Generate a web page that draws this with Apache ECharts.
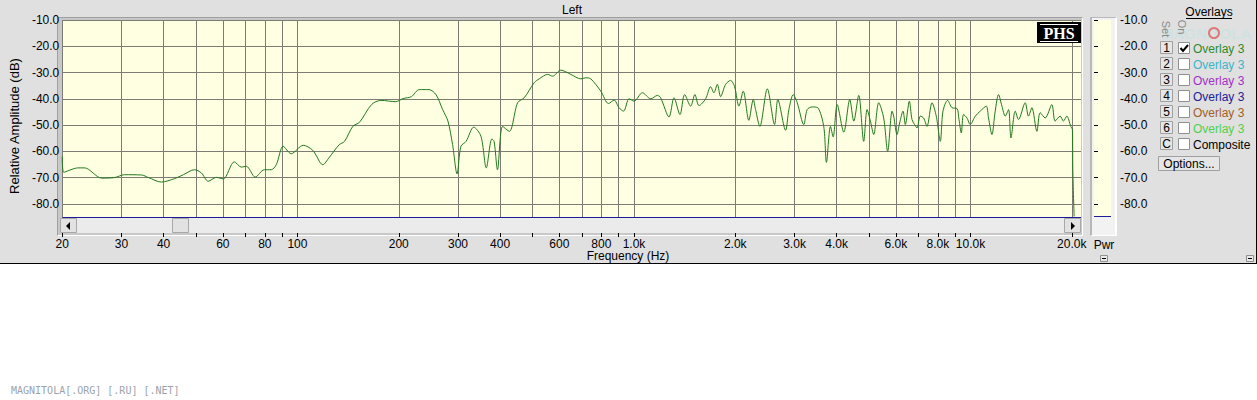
<!DOCTYPE html>
<html><head><meta charset="utf-8">
<script src="https://cdn.jsdelivr.net/npm/echarts@6/dist/echarts.min.js"></script>
<style>
html,body{margin:0;padding:0;background:#fff;width:1257px;height:400px;overflow:hidden}
#panel{position:absolute;left:0;top:0;width:1256px;height:263px;background:#e0e0e0;border-right:1px solid #000;border-bottom:1px solid #000}
#plotframe{position:absolute;left:57px;top:17px;width:1024px;height:217px;background:#c8c8c8;border-left:1px solid #a0a0a0;border-top:1px solid #a0a0a0;border-right:1px solid #fff;border-bottom:1px solid #fff}
#pwrframe{position:absolute;left:1090px;top:17px;width:23px;height:217px;background:#f2f2f2;border-left:2px solid #b8b8b8;border-top:1px solid #b8b8b8;border-right:2px solid #fff;border-bottom:1px solid #fff}
#chart{position:absolute;left:0;top:0;width:1257px;height:400px}
</style></head><body>
<div id="panel"></div>
<div id="plotframe"></div>
<div id="pwrframe"></div>
<div id="chart"></div>
<script>
// ---- data ----
const freqHz = [20,20.2,22.3,23.3,26.2,28.6,30.6,34.4,36.1,39.4,43.1,45.8,49.4,51.8,54.3,57.4,60.2,64.9,68.1,70.5,74.9,79.7,83.6,86.5,90.7,95.8,104,111,119,124,133,138,146,153,166,177,196,206,218,230,246,258,270,280,289,298,306,317,334,351,364,378,384,393,407,426,451,472,505,523,554,573,606,649,695,719,744,797,840,873,903,931,967,1000,1059,1122,1174,1200,1271,1315,1370,1414,1474,1517,1560,1633,1689,1728,1769,1809,1872,1937,1991,2050,2112,2194,2262,2298,2366,2490,2617,2676,2822,2886,2974,3055,3196,3271,3384,3516,3663,3732,3836,3907,4016,4202,4378,4499,4655,4816,4930,5042,5157,5336,5521,5674,5848,5912,6050,6158,6302,6402,6580,6702,6822,6936,7094,7256,7424,7684,7912,8133,8284,8550,8812,9118,9244,9390,9535,9762,9984,10332,10690,11136,11312,11580,11842,12114,12400,12683,12973,13188,13583,13889,14537,14870,15220,15748,16106,16668,17448,17844,18466,18886,19330,19862,20083,20140,20316];
const levelDb = [-62,-68,-66.3,-66.3,-70.2,-70,-68.9,-69,-70,-71.7,-70.4,-68.9,-67,-68.2,-71.4,-69.9,-70.5,-64,-66,-65.7,-69.8,-67,-67,-65.1,-58.1,-60.9,-57.7,-59.6,-65.1,-62.5,-57.5,-56.2,-50.5,-48.9,-42.2,-40.6,-41.1,-39.9,-39.2,-36.5,-36.5,-38.4,-44.1,-48.5,-57.4,-68.6,-58.1,-56.2,-50.8,-54.3,-66.3,-55.3,-56.2,-67,-50.5,-52.4,-41.5,-39.6,-33.9,-32.4,-30.7,-31.4,-29.1,-30.7,-32.4,-32,-32.4,-37.1,-41.8,-40.5,-43.4,-44.7,-40,-40.9,-37.7,-40,-38.7,-39.6,-46.9,-39.6,-46,-38.4,-42.8,-38.4,-42.6,-40,-35.4,-37.7,-34.5,-39.2,-34.5,-33,-35.4,-42.8,-37.1,-48.2,-40.3,-44.1,-50.5,-36.2,-49.8,-40.3,-52,-44.1,-38.4,-41.5,-49.8,-44.1,-43.1,-43.4,-50.5,-64.2,-50.5,-54.5,-42.2,-52.7,-40.3,-48.5,-38.7,-56.2,-44.1,-48.5,-53.6,-41.5,-47.3,-60,-44.7,-46.6,-53.6,-49.2,-44.7,-49.8,-40.9,-47.9,-49.8,-51.1,-46.6,-47.3,-50.5,-41.5,-46.6,-56.2,-44.7,-40.6,-43.4,-43.7,-47.9,-53,-46,-47.3,-49.8,-46.6,-44.7,-42.8,-47.3,-53.6,-44.7,-38.4,-42.8,-46.6,-44.1,-54.9,-44.7,-47.9,-41.5,-46.6,-43.4,-52.4,-45.3,-47.3,-42.2,-48.5,-46.6,-48.5,-46.6,-50.5,-51.7,-67,-84.8];
const xGridHz = [20,30,40,50,60,70,80,90,100,200,300,400,500,600,700,800,900,1000,2000,3000,4000,5000,6000,7000,8000,9000,10000,20000];
const xLabelHz = [20,30,40,60,80,100,200,300,400,600,800,1000,2000,3000,4000,6000,8000,10000,20000];
const yTickDb = [-80,-70,-60,-50,-40,-30,-20,-10];
const overlaySet = ['1','2','3','4','5','6','C'];
const overlayText = ['Overlay 3','Overlay 3','Overlay 3','Overlay 3','Overlay 3','Overlay 3','Composite'];
const overlayColor = ['#2e8b2e','#3cb4c8','#a030c8','#20209a','#a0602a','#50d050','#000000'];
const overlayOn = [true,false,false,false,false,false,false];

const FONT = '"Liberation Sans", Arial, sans-serif';
function txt(x, y, s, opt) {
  opt = opt || {};
  const align = opt.align || 'left', va = opt.va || 'middle';
  return {type:'text', x:x, y:y, rotation: opt.rot || 0, z: opt.z || 50, silent:true,
    style:{text:s, x:0, y:0, fill: opt.fill || '#000', font: opt.font || ('12px ' + FONT),
      textAlign:align, align:align, textVerticalAlign:va, verticalAlign:va}};
}
function rect(x, y, w, h, fill, stroke, z) {
  return {type:'rect', shape:{x:x, y:y, width:w, height:h}, z: z || 40, silent:true,
    style:{fill:fill, stroke: stroke || null, lineWidth:1}};
}
function line(x1, y1, x2, y2, stroke, w, z) {
  return {type:'line', shape:{x1:x1,y1:y1,x2:x2,y2:y2}, z: z || 45, silent:true, style:{stroke:stroke, lineWidth:w || 1}};
}

const g = [];
// title / axis names
g.push(txt(572, 10, 'Left', {align:'center'}));
g.push(txt(628, 256, 'Frequency (Hz)', {align:'center'}));
g.push(txt(1104, 245, 'Pwr', {align:'center'}));
// scrollbar
g.push(rect(60, 218, 1021, 15, '#ebebeb'));
g.push(rect(60.5, 218.5, 16, 14, '#e2e2e2', '#a8a8a8'));
g.push({type:'polygon', z:46, silent:true, shape:{points:[[70,222],[70,230],[66,226]]}, style:{fill:'#000'}});
g.push(rect(172.5, 218.5, 16, 14, '#e2e2e2', '#a8a8a8'));
g.push(rect(1064.5, 218.5, 16, 14, '#e2e2e2', '#a8a8a8'));
g.push({type:'polygon', z:46, silent:true, shape:{points:[[1071,222],[1071,230],[1075,226]]}, style:{fill:'#000'}});
// small buttons bottom
g.push(rect(1100.5, 255.5, 7, 6, '#e8e8e8', '#909090'));
g.push(line(1102, 258.5, 1106, 258.5, '#000'));
g.push(rect(1246.5, 255.5, 7, 6, '#e8e8e8', '#909090'));
g.push(line(1248, 258.5, 1252, 258.5, '#000'));
// PHS badge
g.push(rect(1037, 22, 44, 21, '#000', null, 100));
g.push(txt(1059, 33, 'PHS', {align:'center', fill:'#fff', font:'bold 16px "Liberation Serif", serif', z:101}));
g.push(line(1040, 24.5, 1078, 24.5, '#fff', 1, 101));
g.push(line(1040, 41.5, 1078, 41.5, '#fff', 1, 101));
// overlays panel
g.push(txt(1209, 12, 'Overlays', {align:'center'}));
g.push(line(1186, 18.5, 1232, 18.5, '#000'));
g.push(txt(1206, 33, 'MAGNITOLA', {align:'center', fill:'#cfe2e2', font:'bold 15px ' + FONT, z:30}));
g.push({type:'circle', z:35, silent:true, shape:{cx:1214, cy:33, r:5}, style:{fill:'none', stroke:'#e07878', lineWidth:2}});
g.push(txt(1166, 29, 'Set', {align:'center', fill:'#8a8a8a', font:'11px ' + FONT, rot:-Math.PI/2}));
g.push(txt(1182, 27, 'On', {align:'center', fill:'#8a8a8a', font:'11px ' + FONT, rot:-Math.PI/2}));
overlaySet.forEach(function (s, i) {
  const y = 48 + 16 * i;
  g.push(rect(1160.5, y - 6.5, 12, 12, '#e6e6e6', '#a0a0a0'));
  g.push(txt(1166.5, y, s, {align:'center'}));
  g.push(rect(1178.5, y - 5.5, 11, 11, '#fff', '#909090'));
  if (overlayOn[i]) {
    g.push({type:'polyline', z:47, silent:true, shape:{points:[[1180.5,y],[1183,y+3],[1188,y-3]]}, style:{stroke:'#000', lineWidth:2, fill:null}});
  }
  g.push(txt(1193, y + 0.5, overlayText[i], {fill:overlayColor[i]}));
});
g.push(rect(1158.5, 156.5, 61, 14, '#e6e6e6', '#a0a0a0'));
g.push(txt(1189, 163.5, 'Options...', {align:'center'}));
// footer watermark
g.push(txt(11, 390, 'MAGNITOLA[.ORG] [.RU] [.NET]', {fill:'#9aa3ad', font:'10px "DejaVu Sans Mono", monospace'}));

const chart = echarts.init(document.getElementById('chart'), null, {renderer:'svg', width:1257, height:400});
const fmtHz = function (v) { return v >= 1000 ? (v / 1000).toFixed(1) + 'k' : String(Math.round(v)); };
chart.setOption({
  animation:false,
  backgroundColor:'transparent',
  textStyle:{fontFamily:FONT},
  grid:[
    {left:60, top:20, width:1021, height:197, show:true, backgroundColor:'#ffffe2', borderColor:'#9a9a9a', borderWidth:0},
    {left:1094, top:20, width:17, height:197, show:true, backgroundColor:'#ffffe2', borderWidth:0}
  ],
  xAxis:[
    {type:'log', logBase:10, gridIndex:0, min:20, max:21300, offset:16,
      axisLine:{show:false},
      axisTick:{show:true, customValues:xGridHz, length:4, lineStyle:{color:'#000'}},
      axisLabel:{show:true, customValues:xLabelHz, formatter:fmtHz, margin:5, fontSize:12, color:'#000', fontFamily:FONT},
      splitLine:{show:true, lineStyle:{color:'#7c7c74', width:1}}},
    {type:'value', gridIndex:1, min:0, max:1, show:false}
  ],
  yAxis:[
    {type:'value', gridIndex:0, min:-85, max:-10, position:'left',
      name:'Relative Amplitude (dB)', nameLocation:'middle', nameGap:40,
      nameTextStyle:{fontSize:13, color:'#000', fontFamily:FONT, padding:[0,15,0,0]},
      axisLine:{show:false},
      axisTick:{show:false, customValues:yTickDb},
      axisLabel:{customValues:yTickDb, formatter:function(v){return v.toFixed(1);}, margin:3, fontSize:12, color:'#000', fontFamily:FONT},
      splitLine:{show:true, lineStyle:{color:'#7c7c74', width:1}}},
    {type:'value', gridIndex:1, min:-85, max:-10, position:'right', offset:3,
      axisLine:{show:false},
      axisTick:{show:true, customValues:yTickDb, length:4, lineStyle:{color:'#000'}},
      axisLabel:{customValues:yTickDb, formatter:function(v){return v.toFixed(1);}, margin:6, fontSize:12, color:'#000', fontFamily:FONT},
      splitLine:{show:false}}
  ],
  series:[
    {type:'line', xAxisIndex:0, yAxisIndex:0, data:freqHz.map(function(f,i){return [f, levelDb[i]];}),
      showSymbol:false, symbol:'none', silent:true, smooth:0.3, lineStyle:{color:'#22781e', width:1}, z:5,
      markLine:{symbol:'none', silent:true, label:{show:false}, lineStyle:{color:'#1c1c9a', width:1, type:'solid'}, data:[{yAxis:-85}]}},
    {type:'line', xAxisIndex:1, yAxisIndex:1, data:[], silent:true,
      markLine:{symbol:'none', silent:true, label:{show:false}, lineStyle:{color:'#1c1c9a', width:1, type:'solid'}, data:[{yAxis:-84.6}]}}
  ],
  graphic:{elements:g}
});
</script>
</body></html>
